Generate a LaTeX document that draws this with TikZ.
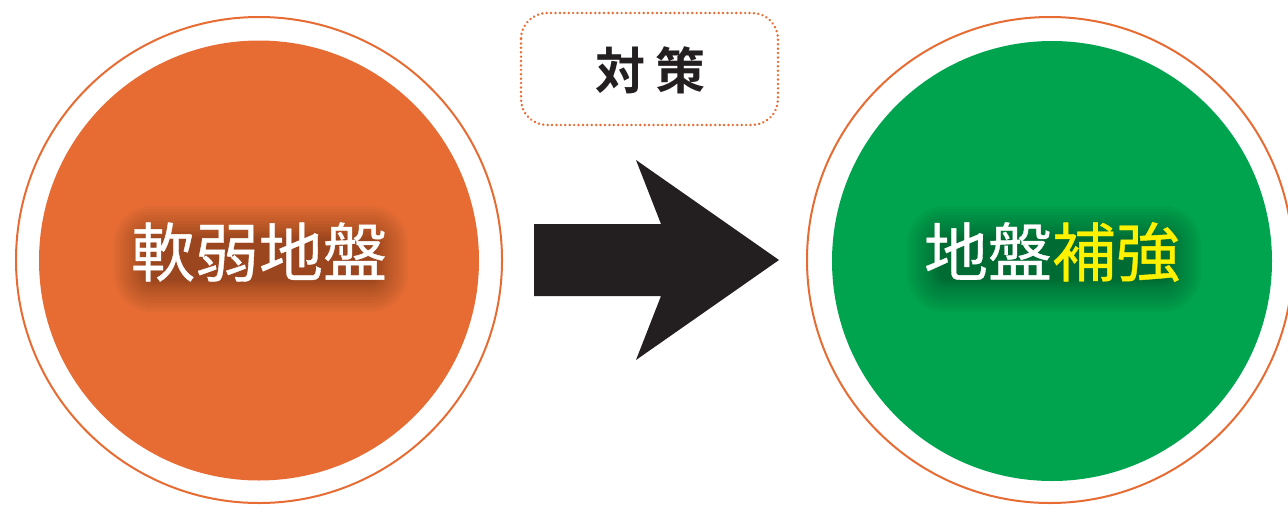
\documentclass[tikz,border=0pt]{standalone}
\usepackage{fontspec}
\newfontfamily\cjk{Noto Sans CJK JP}[FakeBold=0.6]
\newfontfamily\cjkb{Noto Sans CJK JP}[BoldFont={* Bold}]
\definecolor{ringorange}{RGB}{230,108,52}
\definecolor{fillorange}{RGB}{230,108,52}
\definecolor{fillgreen}{RGB}{0,163,78}
\definecolor{txtyellow}{RGB}{255,242,0}
\definecolor{arrowblack}{RGB}{35,31,32}
\begin{document}
\begin{tikzpicture}[x=1pt,y=-1pt,
  ring/.style={draw=ringorange,line width=2pt},
  bigtext/.style={inner sep=0pt,font=\cjk\fontsize{64}{64}\selectfont,text=white},
  softshadow/.style={fill=black,opacity=0.028,draw=none},
  dotbox/.style={draw=ringorange,line width=2.7pt,dash pattern=on 0.01pt off 4.4pt,line cap=round,rounded corners=26pt}
]
\useasboundingbox (0,0) rectangle (1288,504);
\clip (0,0) rectangle (1288,504);
% left circle
\draw[ring] (259,260) circle[radius=243];
\fill[fillorange] (259,260.5) circle[radius=220];
% right circle
\draw[ring] (1050,260) circle[radius=243];
\fill[fillgreen] (1052,261) circle[radius=220];
% soft shadows behind texts
\foreach \d in {32,29,26,23,20,17,14,11,8,6,4,2,0}{
  \fill[softshadow,rounded corners=\d pt+6pt] (146-\d,238-\d) rectangle (376+\d,280+\d);
  \fill[softshadow,rounded corners=\d pt+6pt] (939-\d,238-\d) rectangle (1169+\d,280+\d);
}
% main texts
\node[bigtext] (soft) at (259,252) {軟弱地盤};
\node[bigtext] (reinf) at (1052,252) {地盤\textcolor{txtyellow}{補強}};
% arrow
\fill[arrowblack] (534,224) coordinate (a1) -- (661,224) -- (636,160) -- (779,260) coordinate (tip) -- (636,360) -- (661,296) -- (534,296) -- cycle;
% measure box
\draw[dotbox] (521,13) rectangle (778,125);
\node[inner sep=0pt,font=\cjkb\bfseries\fontsize{50}{50}\selectfont,text=arrowblack] (taisaku) at (650,70) {対\hspace{10pt}策};
\end{tikzpicture}
\end{document}
